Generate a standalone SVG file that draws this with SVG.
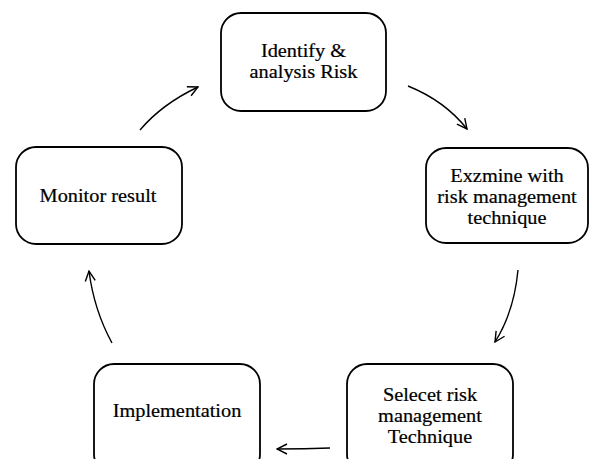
<svg xmlns="http://www.w3.org/2000/svg" width="589" height="459" viewBox="0 0 589 459">
<defs>
<style>
.box{fill:#fff;stroke:#000;stroke-width:1.8}
.t{font-family:"Liberation Serif","Times New Roman",serif;font-size:18px;fill:#000;stroke:#000;stroke-width:0.2;text-anchor:middle}
.c{fill:none;stroke:#000;stroke-width:1.4}
</style>
<marker id="ah" viewBox="0 0 12 12" refX="11" refY="6" markerWidth="12" markerHeight="12" markerUnits="userSpaceOnUse" orient="auto">
<polyline points="1,1 11,6 1,11" fill="none" stroke="#000" stroke-width="1.4"/>
</marker>
</defs>
<rect width="589" height="459" fill="#fff"/>
<g id="identify">
<rect class="box" x="221" y="13" width="165" height="98" rx="20"/>
<g transform="translate(303.5,0) scale(1.13,1)">
<text class="t" x="0" y="57">Identify &amp;</text>
<text class="t" x="0" y="78">analysis Risk</text>
</g>
</g>
<g id="examine">
<rect class="box" x="426" y="148" width="162" height="95" rx="20"/>
<g transform="translate(507,0) scale(1.13,1)">
<text class="t" x="0" y="182">Exzmine with</text>
<text class="t" x="0" y="203">risk management</text>
<text class="t" x="0" y="224">technique</text>
</g>
</g>
<g id="select">
<rect class="box" x="347" y="364" width="166" height="110" rx="20"/>
<g transform="translate(430,0) scale(1.13,1)">
<text class="t" x="0" y="401">Selecet risk</text>
<text class="t" x="0" y="422">management</text>
<text class="t" x="0" y="443">Technique</text>
</g>
</g>
<g id="implementation">
<rect class="box" x="94" y="364" width="166" height="110" rx="20"/>
<g transform="translate(177,0) scale(1.13,1)">
<text class="t" x="0" y="417">Implementation</text>
</g>
</g>
<g id="monitor">
<rect class="box" x="16" y="147" width="166" height="97" rx="20"/>
<g transform="translate(98,0) scale(1.13,1)">
<text class="t" x="0" y="202">Monitor result</text>
</g>
</g>
<g id="connectors">
<path class="c" d="M140,130 Q162,104 198,87" marker-end="url(#ah)"/>
<path class="c" d="M408,86 Q445,101 467,129" marker-end="url(#ah)"/>
<path class="c" d="M518,270 Q514,312 495,342" marker-end="url(#ah)"/>
<path class="c" d="M330,448 Q305,449 277,449" marker-end="url(#ah)"/>
<path class="c" d="M112,343 Q94,310 89,271" marker-end="url(#ah)"/>
</g>
</svg>
